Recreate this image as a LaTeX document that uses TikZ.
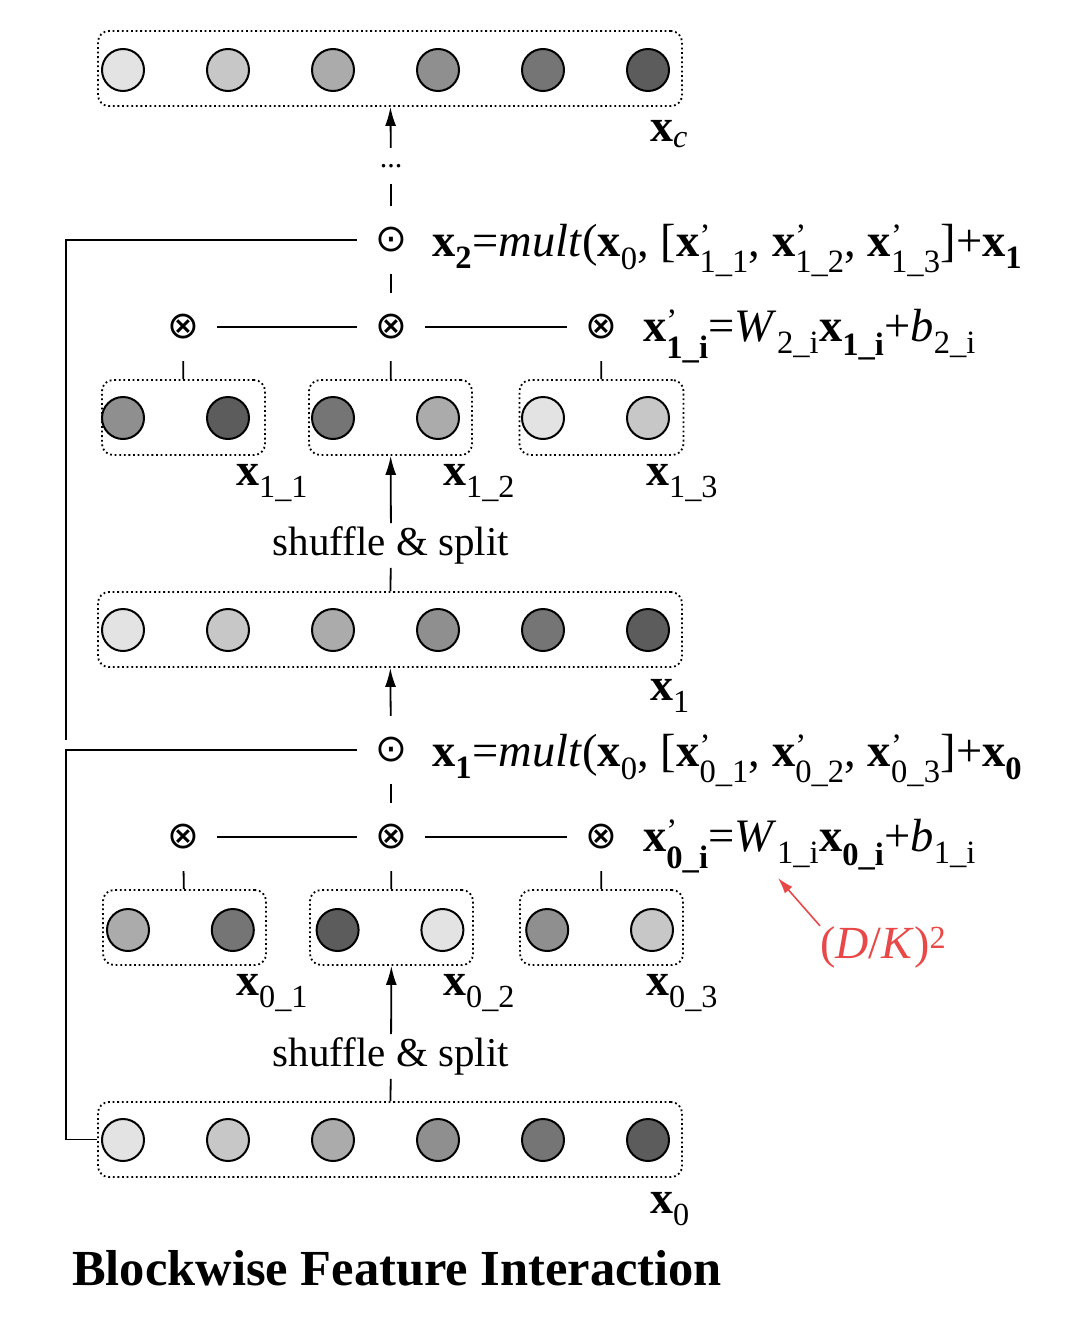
\documentclass[tikz,border=0pt]{standalone}
\usepackage{amsmath}
\usepackage{fontspec}
\setmainfont{Liberation Serif}
\newfontfamily\opsym{DejaVu Sans}
\usepackage{tikz}
\usetikzlibrary{positioning, arrows.meta}

\definecolor{g1}{gray}{0.89}
\definecolor{g2}{gray}{0.78}
\definecolor{g3}{gray}{0.67}
\definecolor{g4}{gray}{0.56}
\definecolor{g5}{gray}{0.46}
\definecolor{g6}{gray}{0.36}
\definecolor{annot}{RGB}{232,72,72}

\newcommand{\xs}[1]{\textbf{x}$_{\text{#1}}$}
\newcommand{\xp}[1]{\textbf{x}$^{\text{’}}_{\text{#1}}$}

\begin{document}
\begin{tikzpicture}[x=1pt, y=-1pt,
    feat/.style={circle, draw, line width=2pt, minimum size=42pt, inner sep=0pt},
    group/.style={draw, line width=1.8pt, dash pattern=on 1.8pt off 2.8pt, rounded corners=11pt, minimum height=75pt},
    op/.style={circle, minimum size=68pt, inner sep=0pt, font=\opsym\fontsize{38}{38}\selectfont},
    link/.style={line width=1.8pt},
    flow/.style={line width=1.8pt, -{Latex[length=19pt, width=11pt]}},
    cue/.style={annot, line width=1.6pt, -{Latex[length=16pt, width=10pt]}},
    lbl/.style={anchor=base west, inner sep=0pt, font=\fontsize{46}{50}\selectfont},
    eqn/.style={anchor=base west, inner sep=0pt, font=\fontsize{46.5}{52}\selectfont},
    note/.style={font=\fontsize{41}{48}\selectfont}
]
\useasboundingbox (0,0) rectangle (1070,1330);

% output x_c
\node[group, minimum width=584pt] (xc) at (390,68.5) {};
\foreach \i/\c in {1/g1,2/g2,3/g3,4/g4,5/g5,6/g6}
    \node[feat, fill=\c] (c\i) at ({123+105*(\i-1)},70) {};
\node[lbl] (xclab) at (650,141) {\xs{\textit{c}}};
\node[minimum height=36pt, inner sep=0pt, font=\fontsize{30}{30}\selectfont] (cont) at (391,166) {...};

% second layer
\node[op] (m2) at (391,240) {⊙};
\node[op] (t2a) at (183,327) {⊗};
\node[op] (t2b) at (391,327) {⊗};
\node[op] (t2c) at (601,327) {⊗};
\node[eqn] (eq2) at (432,256) {\xs{\textbf{2}}=\textit{mult}(\xs{0}, [\xp{1\_1}, \xp{1\_2}, \xp{1\_3}]+\xs{\textbf{1}}};
\node[eqn] (eq2w) at (643,341) {\xp{\textbf{1\_i}}=\textit{W}$_{\text{2\_i}}$\xs{\textbf{1\_i}}+\textit{b}$_{\text{2\_i}}$};

\node[group, minimum width=163pt] (s1a) at (183.5,417.5) {};
\node[group, minimum width=163pt] (s1b) at (390.5,417.5) {};
\node[group, minimum width=164pt] (s1c) at (601.5,417.5) {};
\foreach \i/\c in {1/g4,2/g6,3/g5,4/g3,5/g1,6/g2}
    \node[feat, fill=\c] (a\i) at ({123+105*(\i-1)},418) {};
\node[lbl] (s1alab) at (236,485) {\xs{1\_1}};
\node[lbl] (s1blab) at (443,485) {\xs{1\_2}};
\node[lbl] (s1clab) at (646,485) {\xs{1\_3}};
\node[note] (shuf1) at (391,545.5) {shuffle \& split};

% first layer
\node[group, minimum width=584pt] (x1) at (390,629.5) {};
\foreach \i/\c in {1/g1,2/g2,3/g3,4/g4,5/g5,6/g6}
    \node[feat, fill=\c] (b\i) at ({123+105*(\i-1)},630) {};
\node[lbl] (x1lab) at (650,700) {\xs{1}};

\node[op] (m1) at (391,750) {⊙};
\node[op] (t1a) at (183,837) {⊗};
\node[op] (t1b) at (391,837) {⊗};
\node[op] (t1c) at (601,837) {⊗};
\node[eqn] (eq1) at (432,766) {\xs{\textbf{1}}=\textit{mult}(\xs{0}, [\xp{0\_1}, \xp{0\_2}, \xp{0\_3}]+\xs{\textbf{0}}};
\node[eqn] (eq1w) at (643,851) {\xp{\textbf{0\_i}}=\textit{W}$_{\text{1\_i}}$\xs{\textbf{0\_i}}+\textit{b}$_{\text{1\_i}}$};
\node[note, text=annot, anchor=base west, inner sep=0pt, font=\fontsize{46}{50}\selectfont] (cost) at (820,958) {(\textit{D}/\textit{K})$^{\text{2}}$};
\coordinate (wsub) at (778,878);

\node[group, minimum width=163pt] (s0a) at (184.5,927.5) {};
\node[group, minimum width=163pt] (s0b) at (391.5,927.5) {};
\node[group, minimum width=163pt] (s0c) at (601.5,927.5) {};
\foreach \i/\c in {1/g3,2/g5,3/g6,4/g1,5/g4,6/g2}
    \node[feat, fill=\c] (d\i) at ({128+104.8*(\i-1)},930) {};
\node[lbl] (s0alab) at (236,995) {\xs{0\_1}};
\node[lbl] (s0blab) at (443,995) {\xs{0\_2}};
\node[lbl] (s0clab) at (646,995) {\xs{0\_3}};
\node[note] (shuf0) at (391,1056.5) {shuffle \& split};

% input x_0
\node[group, minimum width=584pt] (x0) at (390,1139.5) {};
\foreach \i/\c in {1/g1,2/g2,3/g3,4/g4,5/g5,6/g6}
    \node[feat, fill=\c] (e\i) at ({123+105*(\i-1)},1140) {};
\node[lbl] (x0lab) at (650,1213) {\xs{0}};

\node[anchor=base west, inner sep=0pt, font=\fontsize{50.5}{56}\selectfont\bfseries] (title) at (72,1285) {Blockwise Feature Interaction};

% connectors
\coordinate (rail) at (66,0);
\coordinate (railend) at (66,740);
\draw[flow] (cont) -- (xc);
\draw[link] (m2) -- (cont);
\draw[link] (m2) -- (m2 -| rail) -- (railend);
\draw[link] (t2b) -- (m2);
\draw[link] (t2a) -- (t2b);
\draw[link] (t2b) -- (t2c);
\draw[link] (t2a) -- (s1a);
\draw[link] (t2b) -- (s1b);
\draw[link] (t2c) -- (s1c);
\draw[flow] (shuf1) -- (s1b);
\draw[link] (shuf1) -- (x1);

\draw[flow] (m1) -- (x1);
\draw[link] (m1) -- (m1 -| rail) |- (x0.west);
\draw[link] (t1b) -- (m1);
\draw[link] (t1a) -- (t1b);
\draw[link] (t1b) -- (t1c);
\draw[link] (t1a) -- (s0a);
\draw[link] (t1b) -- (s0b);
\draw[link] (t1c) -- (s0c);
\draw[flow] (shuf0) -- (s0b);
\draw[link] (shuf0) -- (x0);
\draw[cue] (cost.north west) -- (wsub);

\end{tikzpicture}
\end{document}
